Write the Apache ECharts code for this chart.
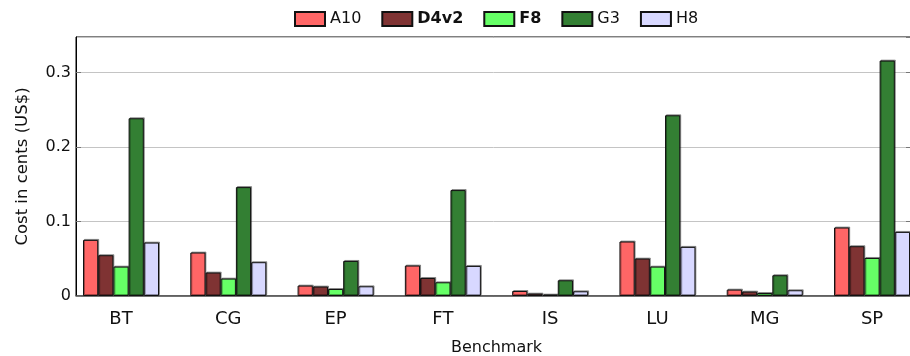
<!DOCTYPE html>
<html>
<head>
<meta charset="utf-8">
<script src="https://cdn.jsdelivr.net/npm/echarts@6/dist/echarts.min.js"></script>
<style>html,body{margin:0;padding:0;background:#fff}#c{width:910px;height:356px}</style>
</head>
<body>
<div id="c"></div>
<script>
const categories = ['BT', 'CG', 'EP', 'FT', 'IS', 'LU', 'MG', 'SP'];
const seriesNames = ['A10', 'D4v2', 'F8', 'G3', 'H8'];
const A10  = [0.0754, 0.0584, 0.0140, 0.0409, 0.0067, 0.0732, 0.0086, 0.0920];
const D4v2 = [0.0548, 0.0315, 0.0127, 0.0242, 0.0032, 0.0503, 0.0059, 0.0669];
const F8   = [0.0395, 0.0234, 0.0094, 0.0184, 0.0019, 0.0395, 0.0040, 0.0511];
const G3   = [0.2388, 0.1463, 0.0471, 0.1423, 0.0211, 0.2428, 0.0279, 0.3163];
const H8   = [0.0718, 0.0454, 0.0130, 0.0404, 0.0063, 0.0660, 0.0077, 0.0861];
const yTickLabels = ['0', '0.1', '0.2', '0.3'];
const seriesData = [A10, D4v2, F8, G3, H8];
const colors = ['#ff6666', '#7f3333', '#66ff66', '#337f33', '#d8d8ff'];
const boldLegend = { 'D4v2': true, 'F8': true };

const FONT = 'DejaVu Sans';
const YMAX = 0.348;
const chart = echarts.init(document.getElementById('c'), null, { renderer: 'canvas' });

function yLabel(v) {
  const k = Math.round(v / 0.1);
  if (Math.abs(v - k * 0.1) > 1e-6) return '';
  return yTickLabels[k] ?? '';
}

const option = {
  animation: false,
  backgroundColor: '#fff',
  textStyle: { fontFamily: FONT, color: '#111' },
  legend: {
    top: 11,
    left: 294,
    padding: 0,
    icon: 'rect',
    itemWidth: 30,
    itemHeight: 14,
    itemGap: 20,
    textStyle: { fontFamily: FONT, fontSize: 16, color: '#111' },
    data: seriesNames.map(n => ({
      name: n,
      icon: 'rect',
      textStyle: { fontWeight: boldLegend[n] ? 'bold' : 'normal', fontFamily: FONT, fontSize: 16, color: '#111' }
    }))
  },
  grid: [
    { left: 76, top: 37, width: 835, height: 259, show: true, borderColor: '#000', borderWidth: 1, containLabel: false, outerBoundsMode: 'none' },
    { left: 67.36, top: 37, width: 858.3, height: 259, containLabel: false, outerBoundsMode: 'none' }
  ],
  xAxis: [
    {
      gridIndex: 0, type: 'value', min: 0, max: 1,
      axisLine: { show: true, onZero: false, lineStyle: { color: '#555', width: 1.5 } },
      axisTick: { show: false }, axisLabel: { show: false }, splitLine: { show: false }
    },
    {
      gridIndex: 1, type: 'category', data: categories,
      axisLine: { show: false }, axisTick: { show: false }, splitLine: { show: false },
      axisLabel: { fontFamily: FONT, fontSize: 18, color: '#111', margin: 14, interval: 0 },
      name: 'Benchmark', nameLocation: 'middle', nameGap: 44,
      nameTextStyle: { fontFamily: FONT, fontSize: 16, color: '#111' }
    }
  ],
  yAxis: [
    {
      gridIndex: 0, type: 'value', min: 0, max: YMAX, interval: 0.1,
      axisLine: { show: true, lineStyle: { color: '#000', width: 1 } },
      axisTick: { show: true, inside: true, length: 5, lineStyle: { color: '#777' } },
      splitLine: { show: true, lineStyle: { color: '#c4c4c4', width: 1 } },
      axisLabel: {
        fontFamily: FONT, fontSize: 16, color: '#111', margin: 5, showMaxLabel: false,
        formatter: yLabel
      },
      name: 'Cost in cents (US$)', nameLocation: 'middle', nameGap: 45,
      nameTextStyle: { fontFamily: FONT, fontSize: 16.5, color: '#111' }
    },
    {
      gridIndex: 0, type: 'value', position: 'right', min: 0, max: YMAX, interval: 0.1,
      axisLine: { show: false },
      axisTick: { show: true, inside: true, length: 5, lineStyle: { color: '#777' } },
      splitLine: { show: false }, axisLabel: { show: false }
    },
    {
      gridIndex: 1, type: 'value', min: 0, max: YMAX, show: false
    }
  ],
  series: seriesNames.map((n, i) => ({
    name: n,
    type: 'bar',
    xAxisIndex: 1,
    yAxisIndex: 2,
    data: seriesData[i],
    barWidth: 15.2,
    barGap: '0%',
    itemStyle: {
      color: colors[i],
      borderColor: '#111',
      borderWidth: 1,
      shadowColor: 'rgba(0,0,0,0.35)',
      shadowBlur: 0,
      shadowOffsetX: 1,
      shadowOffsetY: -1
    }
  }))
};
chart.setOption(option);
</script>
</body>
</html>
